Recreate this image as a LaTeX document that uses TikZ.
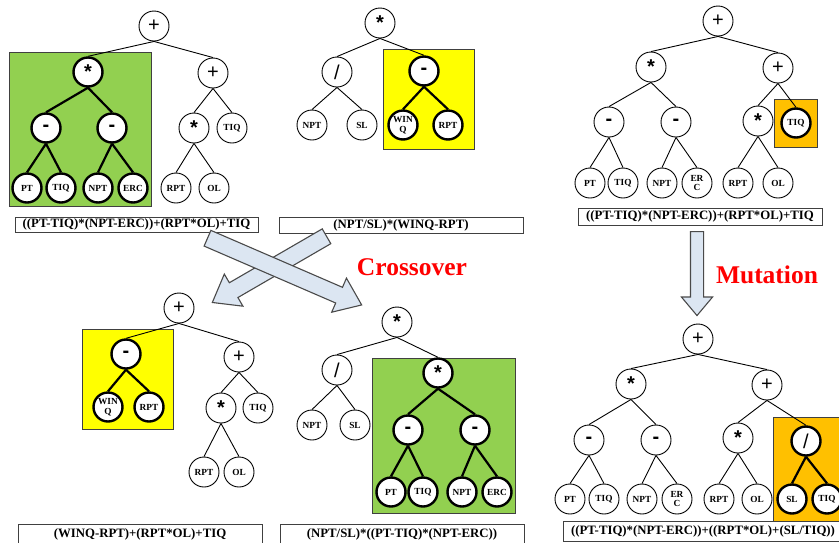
\documentclass[tikz,border=0pt]{standalone}
\usepackage{fontspec}
\setmainfont{Liberation Serif}
\newfontfamily\opfont{Liberation Sans}
\usetikzlibrary{shapes.arrows}
\definecolor{hlgreen}{HTML}{92D050}
\definecolor{hlyellow}{HTML}{FFFF00}
\definecolor{hlorange}{HTML}{FFC000}
\definecolor{boxedge}{HTML}{404040}
\definecolor{arrowfill}{HTML}{DCE6F2}
\definecolor{arrowedge}{HTML}{4A4A4A}
\begin{document}
\begin{tikzpicture}[x=1pt,y=-1pt,
  nd/.style={circle,draw=black,line width=0.9pt,fill=white,minimum size=30pt,inner sep=0pt,align=center,font=\bfseries\fontsize{9.3}{9.8}\selectfont},
  ndk/.style={nd,line width=2.4pt,minimum size=29pt},
  op/.style={font=\opfont\fontsize{20}{20}\selectfont},
  opb/.style={font=\opfont\bfseries\fontsize{20}{20}\selectfont},
  ln/.style={line width=0.9pt},
  lnk/.style={line width=2.2pt},
  hl/.style={draw=boxedge,line width=0.9pt},
  fbox/.style={draw=boxedge,line width=1pt,fill=white,inner sep=0pt,font=\bfseries\fontsize{12.8}{14}\selectfont},
  blk/.style={single arrow,draw=arrowedge,fill=arrowfill,line width=1.1pt,inner sep=8pt,single arrow head extend=10pt,single arrow tip angle=74,anchor=tail},
  lab/.style={text=red,font=\bfseries\fontsize{25.5}{26}\selectfont}
]
\useasboundingbox (0,0) rectangle (839,542);

% highlighted sub-trees
\fill[hlgreen]  (9,52)    rectangle (151,206);  \draw[hl] (9,52)    rectangle (151,206);
\fill[hlyellow] (383,49)  rectangle (474,149);  \draw[hl] (383,49)  rectangle (474,149);
\fill[hlorange] (774,99)  rectangle (817,147);  \draw[hl] (774,99)  rectangle (817,147);
\fill[hlyellow] (82,329)  rectangle (173,429);  \draw[hl] (82,329)  rectangle (173,429);
\fill[hlgreen]  (372,358) rectangle (515,513);  \draw[hl] (372,358) rectangle (515,513);
\fill[hlorange] (773,417) rectangle (845,522);  \draw[hl] (773,417) rectangle (845,522);

% ---------- parent 1 ----------
\node[nd,op]  (a0) at (154,26) {+};
\node[ndk,opb](a1) at (88,72) {*};
\node[nd,op]  (a2) at (213,73) {+};
\node[ndk,opb](a3) at (46,128) {-};
\node[ndk,opb](a4) at (112,128) {-};
\node[nd,opb] (a5) at (194,128) {*};
\node[nd]     (a6) at (232,128) {TIQ};
\node[ndk]    (a7) at (27,188) {PT};
\node[ndk]    (a8) at (61,188) {TIQ};
\node[ndk]    (a9) at (98,188) {NPT};
\node[ndk]    (a10) at (133,188) {ERC};
\node[nd]     (a11) at (176,188) {RPT};
\node[nd]     (a12) at (214,188) {OL};
\draw[ln] (a0.south) -- (a1.north);
\draw[ln] (a0.south) -- (a2.north);
\draw[lnk] (a1.south) -- (a3.north);
\draw[lnk] (a1.south) -- (a4.north);
\draw[ln] (a2.south) -- (a5.north);
\draw[ln] (a2.south) -- (a6.north);
\draw[lnk] (a3.south) -- (a7.north);
\draw[lnk] (a3.south) -- (a8.north);
\draw[lnk] (a4.south) -- (a9.north);
\draw[lnk] (a4.south) -- (a10.north);
\draw[ln] (a5.south) -- (a11.north);
\draw[ln] (a5.south) -- (a12.north);
\node[fbox,minimum width=243pt,minimum height=15pt] (fa) at (136.5,224.5) {((PT-TIQ)*(NPT-ERC))+(RPT*OL)+TIQ};

% ---------- parent 2 ----------
\node[nd,opb] (b0) at (380,23) {*};
\node[nd,op]  (b1) at (337,72) {/};
\node[ndk,opb](b2) at (424,71) {-};
\node[nd]     (b3) at (312,125) {NPT};
\node[nd]     (b4) at (362,125) {SL};
\node[ndk]    (b5) at (403,125) {WIN\\Q};
\node[ndk]    (b6) at (448,125) {RPT};
\draw[ln] (b0.south) -- (b1.north);
\draw[ln] (b0.south) -- (b2.north);
\draw[ln] (b1.south) -- (b3.north);
\draw[ln] (b1.south) -- (b4.north);
\draw[lnk] (b2.south) -- (b5.north);
\draw[lnk] (b2.south) -- (b6.north);
\node[fbox,minimum width=244pt,minimum height=16pt] (fb) at (401,225) {(NPT/SL)*(WINQ-RPT)};

% ---------- tree before mutation ----------
\node[nd,op]  (c0) at (718,21) {+};
\node[nd,opb] (c1) at (651,67) {*};
\node[nd,op]  (c2) at (778,68) {+};
\node[nd,opb] (c3) at (609,122) {-};
\node[nd,opb] (c4) at (676,122) {-};
\node[nd,opb] (c5) at (758,121) {*};
\node[ndk]    (c6) at (796,123) {TIQ};
\node[nd]     (c7) at (590,183) {PT};
\node[nd]     (c8) at (623,183) {TIQ};
\node[nd]     (c9) at (662,183) {NPT};
\node[nd]     (c10) at (697,183) {ER\\C};
\node[nd]     (c11) at (738,183) {RPT};
\node[nd]     (c12) at (778,183) {OL};
\draw[ln] (c0.south) -- (c1.north);
\draw[ln] (c0.south) -- (c2.north);
\draw[ln] (c1.south) -- (c3.north);
\draw[ln] (c1.south) -- (c4.north);
\draw[ln] (c2.south) -- (c5.north);
\draw[ln] (c2.south) -- (c6.north);
\draw[ln] (c3.south) -- (c7.north);
\draw[ln] (c3.south) -- (c8.north);
\draw[ln] (c4.south) -- (c9.north);
\draw[ln] (c4.south) -- (c10.north);
\draw[ln] (c5.south) -- (c11.north);
\draw[ln] (c5.south) -- (c12.north);
\node[fbox,minimum width=244pt,minimum height=17pt] (fc) at (700,216.5) {((PT-TIQ)*(NPT-ERC))+(RPT*OL)+TIQ};

% ---------- offspring 1 ----------
\node[nd,op]  (d0) at (179,308) {+};
\node[ndk,opb](d1) at (126,354) {-};
\node[nd,op]  (d2) at (239,357) {+};
\node[ndk]    (d3) at (108,407) {WIN\\Q};
\node[ndk]    (d4) at (149,407) {RPT};
\node[nd,opb] (d5) at (221,408) {*};
\node[nd]     (d6) at (258,408) {TIQ};
\node[nd]     (d7) at (204,472) {RPT};
\node[nd]     (d8) at (239,472) {OL};
\draw[ln] (d0.south) -- (d1.north);
\draw[ln] (d0.south) -- (d2.north);
\draw[lnk] (d1.south) -- (d3.north);
\draw[lnk] (d1.south) -- (d4.north);
\draw[ln] (d2.south) -- (d5.north);
\draw[ln] (d2.south) -- (d6.north);
\draw[ln] (d5.south) -- (d7.north);
\draw[ln] (d5.south) -- (d8.north);
\node[fbox,minimum width=244pt,minimum height=20pt] (fd) at (140,534) {(WINQ-RPT)+(RPT*OL)+TIQ};

% ---------- offspring 2 ----------
\node[nd,opb] (e0) at (397,322) {*};
\node[nd,op]  (e1) at (337,370) {/};
\node[ndk,opb](e2) at (438,373) {*};
\node[nd]     (e3) at (312,425) {NPT};
\node[nd]     (e4) at (355,425) {SL};
\node[ndk,opb](e5) at (408,430) {-};
\node[ndk,opb](e6) at (475,430) {-};
\node[ndk]    (e7) at (391,492) {PT};
\node[ndk]    (e8) at (423,492) {TIQ};
\node[ndk]    (e9) at (462,492) {NPT};
\node[ndk]    (e10) at (497,492) {ERC};
\draw[ln] (e0.south) -- (e1.north);
\draw[ln] (e0.south) -- (e2.north);
\draw[ln] (e1.south) -- (e3.north);
\draw[ln] (e1.south) -- (e4.north);
\draw[lnk] (e2.south) -- (e5.north);
\draw[lnk] (e2.south) -- (e6.north);
\draw[lnk] (e5.south) -- (e7.north);
\draw[lnk] (e5.south) -- (e8.north);
\draw[lnk] (e6.south) -- (e9.north);
\draw[lnk] (e6.south) -- (e10.north);
\node[fbox,minimum width=244pt,minimum height=20pt] (fe) at (402,534) {(NPT/SL)*((PT-TIQ)*(NPT-ERC))};

% ---------- mutated tree ----------
\node[nd,op]  (f0) at (698,339) {+};
\node[nd,opb] (f1) at (631,384) {*};
\node[nd,op]  (f2) at (767,385) {+};
\node[nd,opb] (f3) at (589,440) {-};
\node[nd,opb] (f4) at (656,440) {-};
\node[nd,opb] (f5) at (738,438) {*};
\node[ndk,op] (f6) at (806,441) {/};
\node[nd]     (f7) at (570,499) {PT};
\node[nd]     (f8) at (604,499) {TIQ};
\node[nd]     (f9) at (642,499) {NPT};
\node[nd]     (f10) at (677,499) {ER\\C};
\node[nd]     (f11) at (719,499) {RPT};
\node[nd]     (f12) at (757,499) {OL};
\node[ndk]    (f13) at (792,499) {SL};
\node[ndk]    (f14) at (827,499) {TIQ};
\draw[ln] (f0.south) -- (f1.north);
\draw[ln] (f0.south) -- (f2.north);
\draw[ln] (f1.south) -- (f3.north);
\draw[ln] (f1.south) -- (f4.north);
\draw[ln] (f2.south) -- (f5.north);
\draw[ln] (f2.south) -- (f6.north);
\draw[ln] (f3.south) -- (f7.north);
\draw[ln] (f3.south) -- (f8.north);
\draw[ln] (f4.south) -- (f9.north);
\draw[ln] (f4.south) -- (f10.north);
\draw[ln] (f5.south) -- (f11.north);
\draw[ln] (f5.south) -- (f12.north);
\draw[lnk] (f6.south) -- (f13.north);
\draw[lnk] (f6.south) -- (f14.north);
\node[fbox,minimum width=280pt,minimum height=20pt] (ff) at (703,531) {((PT-TIQ)*(NPT-ERC))+((RPT*OL)+(SL/TIQ))};

% ---------- operators ----------
\node[blk,minimum height=132pt,rotate=-149.9] (xb) at (327,236) {};
\node[blk,minimum height=168pt,rotate=-23.4] (xa) at (207,238) {};
\node[lab] (cross) at (412,267) {Crossover};
\node[blk,minimum height=84pt,rotate=-90,inner sep=6pt,single arrow head extend=9pt,single arrow tip angle=80] (mu) at (697,231) {};
\node[lab] (mut) at (767,275) {Mutation};
\end{tikzpicture}
\end{document}
